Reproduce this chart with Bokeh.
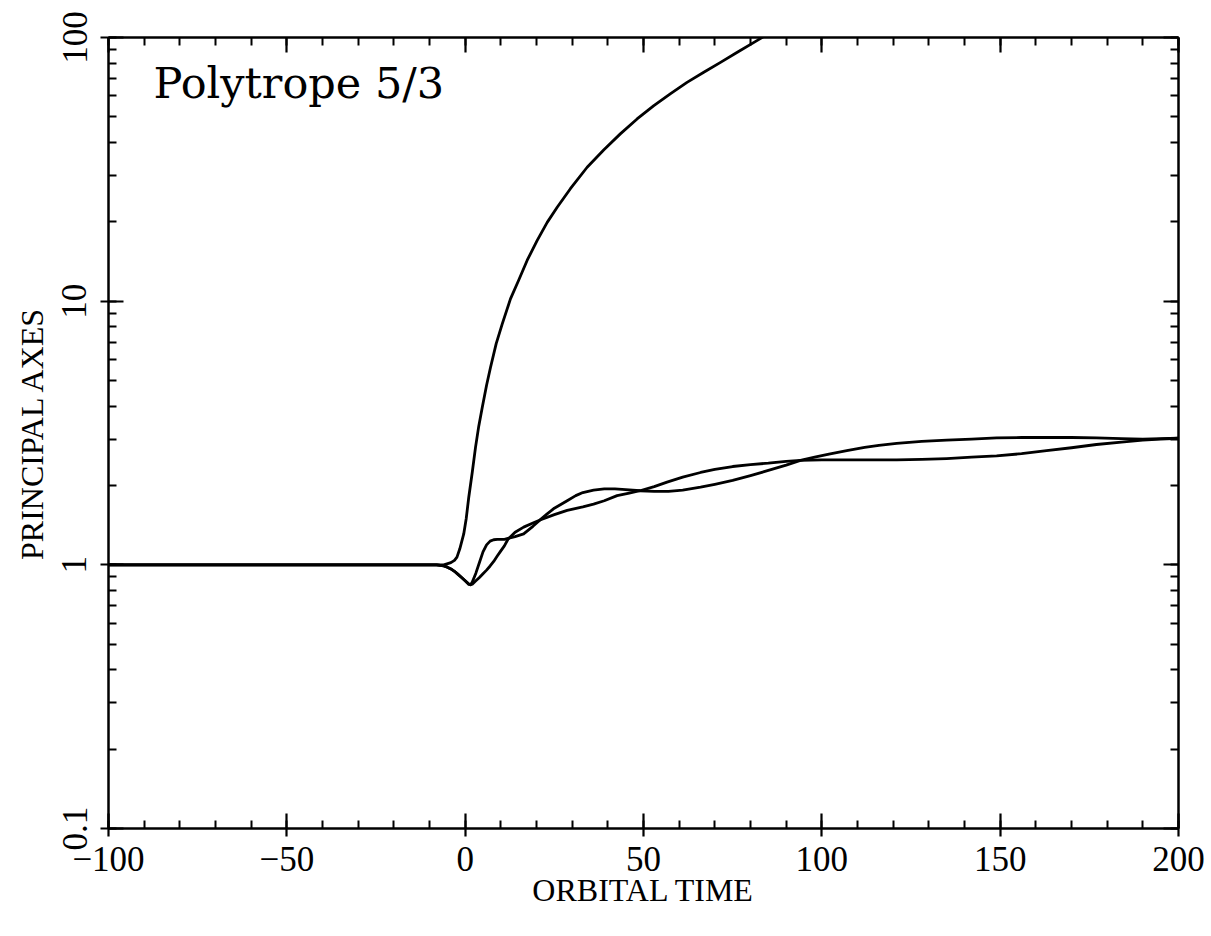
from bokeh.plotting import figure
from bokeh.models import (Range1d, FixedTicker, LinearAxis, LogAxis, Label,
                          CustomJSTickFormatter)
from bokeh.embed import file_html
from bokeh.resources import INLINE

# ---- data ----
t_major = [-100, -60, -20, -10, -8, -6, -4, -3, -2.3, -1.5, -0.4, 0.3, 1.0, 2.0, 2.9,
           3.8, 4.8, 6.0, 7.1, 8.7, 10.4, 12.7, 15.0, 17.4, 20.2, 23.0, 25.8, 29.5,
           34.2, 38.9, 43.5, 48.2, 52.9, 57.6, 62.2, 66.9, 71.6, 76.3, 81.8, 83.2, 90]
axis_major = [1.0, 1.0, 1.0, 1.0, 1.0, 1.0, 1.02, 1.04, 1.07, 1.15, 1.31, 1.50, 1.80,
              2.25, 2.79, 3.35, 3.96, 4.8, 5.6, 6.9, 8.2, 10.2, 12.0, 14.3, 17.0, 19.9,
              22.7, 26.7, 32.2, 37.5, 43.1, 49.1, 55.2, 61.3, 67.6, 73.8, 80.5, 87.9,
              97.3, 100.0, 112.0]

t_mid = [-100, -60, -20, -10, -8, -6, -5, -4, -3, -2, -1, 0, 1, 1.5, 2, 3, 4, 5, 6, 7,
         8, 9, 11, 12, 14, 16.4, 19, 21, 23, 25, 28.6, 31, 33, 36, 39, 42, 45, 49, 53,
         57, 61, 66, 70, 75, 80, 85, 90, 94, 98, 102, 107, 112, 116, 121, 128, 135,
         142, 149, 156, 163, 170, 177, 184, 190, 195, 200]
axis_mid = [1.0, 1.0, 1.0, 1.0, 1.0, 0.99, 0.98, 0.965, 0.945, 0.92, 0.895, 0.87,
            0.845, 0.84, 0.86, 0.93, 1.02, 1.12, 1.19, 1.23, 1.245, 1.25, 1.25, 1.26,
            1.28, 1.31, 1.40, 1.48, 1.56, 1.64, 1.75, 1.83, 1.88, 1.92, 1.94, 1.94,
            1.93, 1.91, 1.90, 1.90, 1.92, 1.97, 2.02, 2.09, 2.18, 2.28, 2.39, 2.49,
            2.56, 2.63, 2.71, 2.79, 2.84, 2.89, 2.94, 2.97, 3.00, 3.03, 3.04, 3.04,
            3.04, 3.03, 3.01, 3.00, 3.01, 3.02]

t_minor = [-100, -60, -20, -10, -8, -6, -5, -4, -3, -2, -1, 0, 1, 1.5, 2, 3, 4, 5, 6,
           7, 8, 9, 10, 11, 12, 14, 16.4, 19, 21, 25, 28.6, 33, 36, 39, 42.6, 46, 49,
           53, 56.6, 61, 66, 70, 75, 80, 85, 90, 94, 100, 107, 114, 121, 128, 135,
           142, 149, 156, 163, 170, 177, 184, 190, 195, 200]
axis_minor = [1.0, 1.0, 1.0, 1.0, 1.0, 0.99, 0.98, 0.965, 0.945, 0.92, 0.895, 0.87,
              0.845, 0.84, 0.845, 0.87, 0.895, 0.925, 0.955, 0.99, 1.03, 1.08, 1.13,
              1.18, 1.25, 1.33, 1.39, 1.44, 1.48, 1.55, 1.61, 1.66, 1.70, 1.75, 1.83,
              1.87, 1.91, 1.98, 2.06, 2.15, 2.24, 2.30, 2.36, 2.40, 2.43, 2.47, 2.49,
              2.50, 2.50, 2.50, 2.50, 2.51, 2.53, 2.56, 2.59, 2.64, 2.71, 2.78, 2.86,
              2.92, 2.97, 3.00, 3.02]

x_ticks = [-100, -50, 0, 50, 100, 150, 200]
x_minor = list(range(-100, 201, 10))
y_ticks = [0.1, 1, 10, 100]
y_minor = [m * d for d in (0.1, 1, 10) for m in range(1, 10)] + [100]

title_text = "Polytrope 5/3"
x_title = "ORBITAL TIME"
y_title = "PRINCIPAL AXES"

# ---- figure ----
p = figure(width=1211, height=936, y_axis_type="log",
           x_range=Range1d(-100, 200), y_range=Range1d(0.1, 100),
           output_backend="svg", toolbar_location=None,
           min_border_left=108, min_border_right=33,
           min_border_top=37, min_border_bottom=108)
p.outline_line_color = None
p.grid.visible = False
p.background_fill_color = "white"
p.border_fill_color = "white"

for xs, ys in ((t_major, axis_major), (t_mid, axis_mid), (t_minor, axis_minor)):
    p.line(xs, ys, line_color="black", line_width=2.8, line_join="round")

serif = "Liberation Serif"

def style(ax, tick_out=8):
    ax.axis_line_color = "black"
    ax.axis_line_width = 2.5
    ax.major_tick_line_width = 2.2
    ax.minor_tick_line_width = 2.0
    ax.major_tick_in = 15
    ax.major_tick_out = tick_out
    ax.minor_tick_in = 8
    ax.minor_tick_out = 0
    ax.major_label_text_font = serif
    ax.major_label_text_font_size = "35px"
    ax.major_label_text_color = "black"
    ax.axis_label_text_font = serif
    ax.axis_label_text_font_size = "32px"
    ax.axis_label_text_font_style = "normal"
    ax.axis_label_text_color = "black"

xfmt = CustomJSTickFormatter(code="return tick < 0 ? '\\u2212' + Math.abs(tick) : '' + tick;")
yfmt = CustomJSTickFormatter(code="return tick >= 1 ? tick.toFixed(0) : tick.toFixed(1);")
blank = CustomJSTickFormatter(code="return '';")

xb = p.xaxis[0]
style(xb)
xb.ticker = FixedTicker(ticks=x_ticks, minor_ticks=x_minor)
xb.formatter = xfmt
xb.major_label_standoff = 10
xb.axis_label = x_title
xb.axis_label_standoff = -2

yl = p.yaxis[0]
style(yl)
yl.ticker = FixedTicker(ticks=y_ticks, minor_ticks=y_minor)
yl.formatter = yfmt
yl.major_label_orientation = "vertical"
yl.major_label_standoff = 14
yl.axis_label = y_title
yl.axis_label_standoff = 10

xt = LinearAxis(ticker=FixedTicker(ticks=x_ticks, minor_ticks=x_minor), formatter=blank)
style(xt, tick_out=0)
p.add_layout(xt, "above")

yr = LogAxis(ticker=FixedTicker(ticks=y_ticks, minor_ticks=y_minor), formatter=blank)
style(yr, tick_out=0)
p.add_layout(yr, "right")

p.add_layout(Label(x=-87.4, y=67, text=title_text, text_font="DejaVu Serif",
                   text_font_size="43px", text_color="black",
                   text_baseline="alphabetic", text_align="left"))

open("out.html", "w").write(file_html(p, INLINE))
